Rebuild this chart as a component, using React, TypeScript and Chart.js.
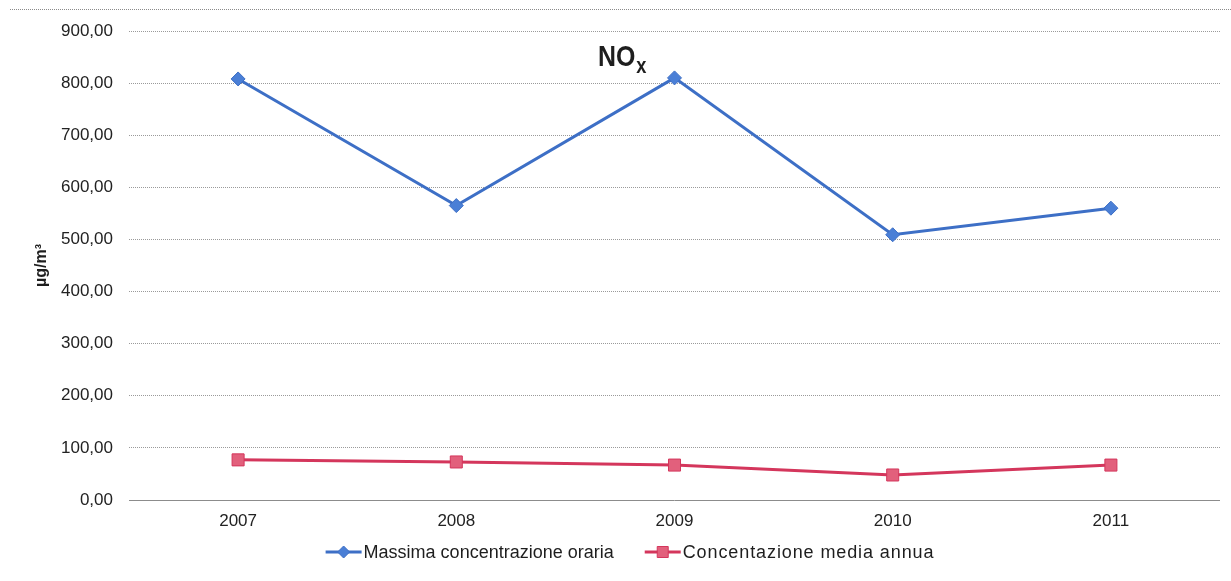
import React, { useEffect, useRef } from "react";
import { Chart, registerables } from "chart.js";

Chart.register(...registerables);

const years: string[] = ["2007", "2008", "2009", "2010", "2011"];
const maxHourly: number[] = [808, 565, 810, 509, 560];
const annualMean: number[] = [77, 73, 67, 48, 67];
const yTickValues: number[] = [0, 100, 200, 300, 400, 500, 600, 700, 800, 900];
const seriesLabels: string[] = ["Massima concentrazione oraria", "Concentazione media annua"];
const titleMain = "NO";
const titleSub = "x";
const yAxisTitle = "µg/m³";

const FONT = "'Liberation Sans', Arial, sans-serif";
const BLUE = "#3d6fc6";
const BLUE_FILL = "#4a7fd6";
const RED = "#d4365c";
const RED_FILL = "#e2607c";

const fmt = (v: number) => v.toFixed(2).replace(".", ",");

export default function App() {
  const ref = useRef<HTMLCanvasElement | null>(null);

  useEffect(() => {
    document.body.style.margin = "0";
    const canvas = ref.current;
    if (!canvas) return;

    const decor = {
      id: "decor",
      beforeDraw(chart: any) {
        const ctx = chart.ctx;
        ctx.save();
        ctx.fillStyle = "#ffffff";
        ctx.fillRect(0, 0, chart.width, chart.height);
        ctx.strokeStyle = "#8a8a8a";
        ctx.lineWidth = 1;
        ctx.setLineDash([1, 1]);
        ctx.beginPath();
        ctx.moveTo(10, 9.5);
        ctx.lineTo(chart.width, 9.5);
        ctx.stroke();
        ctx.restore();
      },
      beforeDatasetsDraw(chart: any) {
        const ctx = chart.ctx;
        const y0 = Math.round(chart.scales.y.getPixelForValue(0)) + 0.5;
        const a = chart.chartArea;
        ctx.save();
        ctx.strokeStyle = "#8c8c8c";
        ctx.lineWidth = 1;
        ctx.beginPath();
        ctx.moveTo(a.left, y0);
        ctx.lineTo(a.right, y0);
        ctx.stroke();
        ctx.restore();
      },
      afterDraw(chart: any) {
        const ctx = chart.ctx;
        ctx.save();
        // Title NOx
        ctx.fillStyle = "#1e1e1e";
        ctx.textBaseline = "alphabetic";
        ctx.textAlign = "left";
        ctx.save();
        ctx.translate(598, 66);
        ctx.scale(0.83, 1);
        ctx.font = `bold 30px ${FONT}`;
        ctx.fillText(titleMain, 0, 0);
        const w = ctx.measureText(titleMain).width;
        ctx.font = `bold 22px ${FONT}`;
        ctx.fillText(titleSub, w + 1, 7);
        ctx.restore();

        // Legend
        const colors = [
          { line: BLUE, fill: BLUE_FILL, shape: "diamond", spacing: 0 },
          { line: RED, fill: RED_FILL, shape: "square", spacing: 0.9 },
        ];
        ctx.font = `18px ${FONT}`;
        const markW = 36;
        const gapText = 2;
        const gapItems = 31;
        const widths = seriesLabels.map((l, i) => {
          (ctx as any).letterSpacing = `${colors[i].spacing}px`;
          const tw = ctx.measureText(l).width;
          (ctx as any).letterSpacing = "0px";
          return markW + gapText + tw;
        });
        const total = widths.reduce((s, v) => s + v, 0) + gapItems * (widths.length - 1);
        let x = 630 - total / 2;
        const ly = 552;
        seriesLabels.forEach((label, i) => {
          const c = colors[i];
          ctx.strokeStyle = c.line;
          ctx.lineWidth = 3;
          ctx.beginPath();
          ctx.moveTo(x, ly);
          ctx.lineTo(x + markW, ly);
          ctx.stroke();
          const cx = x + markW / 2;
          ctx.fillStyle = c.fill;
          ctx.strokeStyle = c.line;
          ctx.lineWidth = 1;
          ctx.beginPath();
          if (c.shape === "diamond") {
            const r = 6;
            ctx.moveTo(cx - r, ly);
            ctx.lineTo(cx, ly - r);
            ctx.lineTo(cx + r, ly);
            ctx.lineTo(cx, ly + r);
            ctx.closePath();
          } else {
            const r = 5.5;
            ctx.rect(cx - r, ly - r, 2 * r, 2 * r);
          }
          ctx.fill();
          ctx.stroke();
          ctx.fillStyle = "#1e1e1e";
          ctx.textBaseline = "middle";
          (ctx as any).letterSpacing = `${c.spacing}px`;
          ctx.fillText(label, x + markW + gapText, ly + 1);
          (ctx as any).letterSpacing = "0px";
          x += widths[i] + gapItems;
        });
        ctx.restore();
      },
    };

    const chart = new Chart(canvas, {
      type: "line",
      data: {
        labels: years,
        datasets: [
          {
            label: seriesLabels[0],
            data: maxHourly,
            borderColor: BLUE,
            backgroundColor: BLUE_FILL,
            borderWidth: 3,
            pointStyle: "rectRot",
            pointRadius: 7,
            pointBorderWidth: 1,
            pointBorderColor: BLUE,
            pointBackgroundColor: BLUE_FILL,
            tension: 0,
          },
          {
            label: seriesLabels[1],
            data: annualMean,
            borderColor: RED,
            backgroundColor: RED_FILL,
            borderWidth: 3,
            pointStyle: "rect",
            pointRadius: 8.5,
            pointBorderWidth: 1,
            pointBorderColor: RED,
            pointBackgroundColor: RED_FILL,
            tension: 0,
          },
        ],
      },
      options: {
        animation: false,
        responsive: false,
        devicePixelRatio: 1,
        layout: { padding: { top: 31, right: 11, left: 0, bottom: 0 } },
        plugins: {
          legend: { display: false },
          title: { display: false },
          tooltip: { enabled: false },
        },
        scales: {
          x: {
            offset: true,
            grid: { display: false, drawTicks: false },
            border: { display: false },
            ticks: {
              color: "#222222",
              font: { family: FONT, size: 17 },
              padding: 11,
              maxRotation: 0,
            },
            afterFit(scale: any) {
              scale.height = 81;
            },
          },
          y: {
            min: 0,
            max: 900,
            afterBuildTicks(scale: any) {
              scale.ticks = yTickValues.map((v) => ({ value: v }));
            },
            ticks: {
              color: "#222222",
              font: { family: FONT, size: 17 },
              padding: 16,
              callback: (v: any) => fmt(Number(v)),
            },
            grid: { color: "#9a9a9a", lineWidth: 1, drawTicks: false },
            border: { display: false, dash: [1, 1] },
            title: {
              display: true,
              text: yAxisTitle,
              color: "#1e1e1e",
              font: { family: FONT, size: 16, weight: "bold" },
              padding: { top: 32, bottom: 0 },
            },
            afterFit(scale: any) {
              scale.width = 129;
            },
          },
        },
      },
      plugins: [decor],
    } as any);

    return () => chart.destroy();
  }, []);

  return (
    <div style={{ width: 1231, height: 581, position: "relative", background: "#fff" }}>
      <canvas ref={ref} width={1231} height={581} style={{ display: "block" }} />
    </div>
  );
}
